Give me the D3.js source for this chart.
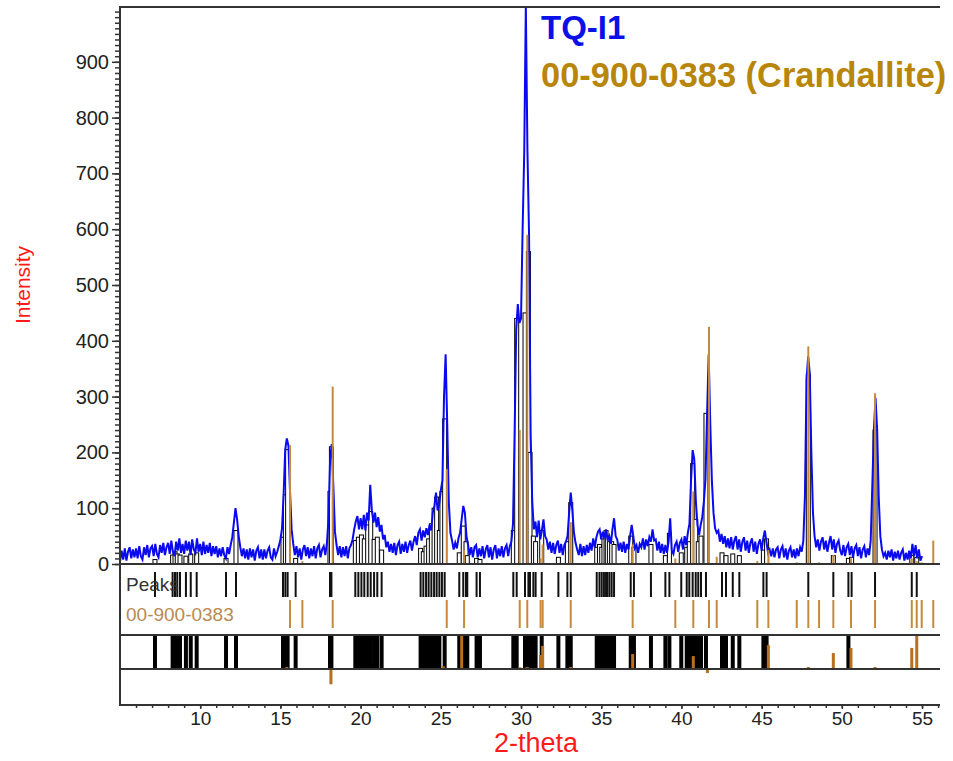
<!DOCTYPE html>
<html>
<head>
<meta charset="utf-8">
<script src="https://cdn.jsdelivr.net/npm/d3@7"></script>
<style>
  body { margin: 0; background: #fff; }
  svg { display: block; }
</style>
</head>
<body>
<svg id="chart" width="953" height="761"></svg>
<script>
// Measured scan TQ-I1: counts every 0.1 deg 2-theta, 5.0 .. 55.0
const scanStart = 5.0;
const scanStep = 0.1;
const intensity = [
  4, 24, 8, 28, 6, 22, 30, 10, 26, 12,          // 5
  28, 10, 32, 14, 8, 30, 16, 34, 12, 28,        // 6
  32, 14, 36, 18, 12, 34, 20, 38, 16, 30,       // 7
  38, 18, 42, 22, 14, 40, 24, 46, 20, 36,       // 8
  18, 42, 24, 40, 16, 44, 26, 20, 46, 22,       // 9
  36, 16, 40, 18, 34, 20, 38, 14, 32, 18,       // 10
  32, 12, 28, 14, 30, 16, 10, 30, 18, 34,       // 11
  48, 74, 100, 80, 50, 30, 14, 28, 10, 26,      // 12
  8, 28, 12, 26, 6, 24, 30, 10, 26, 8,          // 13
  26, 10, 24, 30, 12, 8, 28, 14, 22, 32,        // 14
  44, 64, 125, 205, 225, 212, 130, 62, 36, 16,  // 15
  32, 12, 28, 8, 26, 34, 14, 30, 10, 28,        // 16
  14, 32, 10, 28, 34, 12, 26, 32, 16, 38,       // 17
  82, 190, 215, 140, 58, 34, 16, 32, 12, 30,    // 18
  14, 32, 10, 28, 34, 44, 62, 76, 86, 62,       // 19
  82, 62, 88, 60, 92, 78, 142, 96, 74, 92,      // 20
  66, 84, 58, 70, 44, 52, 30, 40, 22, 36,       // 21
  20, 38, 16, 34, 40, 18, 36, 22, 40, 20,       // 22
  34, 42, 24, 40, 50, 34, 56, 62, 42, 60,       // 23
  48, 64, 52, 70, 60, 92, 104, 128, 96, 108,    // 24
  132, 150, 300, 376, 250, 110, 56, 42, 26, 38, // 25
  28, 46, 56, 80, 104, 92, 50, 34, 16, 30,      // 26
  12, 30, 34, 12, 28, 14, 32, 10, 26, 34,       // 27
  12, 30, 8, 26, 34, 10, 28, 14, 32, 12,        // 28
  28, 34, 14, 32, 40, 72, 232, 420, 466, 432,   // 29
  440, 600, 736, 1000, 742, 592, 232, 112, 62, 76, // 30
  48, 78, 44, 60, 80, 50, 44, 26, 40, 20,       // 31
  38, 18, 34, 42, 20, 36, 16, 34, 40, 50,       // 32
  92, 128, 96, 56, 38, 26, 16, 36, 14, 32,      // 33
  16, 34, 20, 38, 24, 46, 30, 48, 58, 62,       // 34
  44, 58, 46, 62, 42, 50, 36, 62, 82, 50,       // 35
  44, 24, 38, 22, 40, 20, 36, 26, 50, 70,       // 36
  50, 28, 34, 20, 36, 30, 46, 26, 44, 32,       // 37
  48, 40, 62, 42, 44, 24, 40, 20, 36, 18,       // 38
  34, 20, 40, 82, 24, 18, 34, 40, 22, 38,       // 39
  44, 26, 50, 34, 56, 72, 150, 204, 188, 112,   // 40
  70, 52, 70, 84, 112, 152, 270, 376, 250, 148, // 41
  92, 64, 56, 60, 40, 54, 36, 50, 30, 46,       // 42
  28, 48, 26, 42, 50, 26, 44, 22, 40, 48,       // 43
  24, 42, 20, 38, 46, 22, 40, 18, 36, 44,       // 44
  24, 46, 60, 40, 20, 26, 14, 28, 12, 26,       // 45
  30, 10, 26, 32, 12, 28, 8, 24, 30, 12,        // 46
  26, 10, 28, 14, 30, 22, 42, 122, 330, 372,    // 47
  342, 200, 92, 50, 30, 44, 24, 40, 48, 26,     // 48
  42, 22, 38, 50, 26, 44, 20, 36, 42, 24,       // 49
  16, 34, 14, 30, 36, 16, 32, 12, 28, 34,       // 50
  14, 30, 10, 26, 32, 12, 28, 16, 42, 140,      // 51
  240, 298, 242, 120, 50, 26, 14, 20, 8, 24,    // 52
  12, 26, 6, 22, 10, 24, 8, 20, 26, 6,          // 53
  20, 8, 24, 10, 36, 14, 34, 10, 26, 6,         // 54
  14                                            // 55
];

// Peak list of the scan (position, height)
const peakPos = [
  7.18, 8.28, 8.43, 8.57, 8.74, 9.11, 9.41, 9.78, 11.61, 12.23,
  15.16, 15.31, 15.45, 15.95, 18.09, 18.18,
  19.67, 19.86, 20.05, 20.23, 20.44, 20.63, 20.84, 21.04, 21.31,
  23.74, 23.91, 24.08, 24.24, 24.41, 24.58, 24.74, 24.91, 25.07, 25.24,
  26.15, 26.40, 26.57, 26.65, 27.23, 27.44,
  29.52, 29.73, 30.25, 30.46, 30.56, 30.77, 30.91, 31.29,
  32.33, 32.89, 33.10,
  34.72, 34.89, 35.03, 35.17, 35.30, 35.38, 35.51, 35.65, 35.80,
  36.84, 37.04, 38.10, 39.00, 39.25,
  39.99, 40.33, 40.49, 40.70, 40.89, 41.05, 41.22, 41.53,
  42.53, 42.78, 43.20, 43.61, 45.11, 45.31,
  47.91, 49.47, 50.41, 50.61, 52.07, 54.36, 54.67
];
const peakHeight = [
  8, 16, 22, 18, 16, 14, 18, 20, 10, 60,
  48, 124, 205, 10, 130, 210,
  42, 48, 52, 45, 70, 94, 44, 48, 25,
  28, 22, 32, 45, 72, 100, 120, 60, 130, 260,
  20, 68, 40, 15, 10, 8,
  60, 440, 450, 560, 200, 50, 40, 60,
  12, 40, 110,
  30, 35, 30, 45, 60, 50, 40, 40, 35,
  50, 30, 35, 15, 55,
  20, 30, 40, 180, 80, 40, 50, 270,
  20, 15, 18, 15, 25, 45,
  340, 15, 10, 12, 240, 15, 12
];

// Reference card 00-900-0383 (Crandallite): line positions and heights
const refPos = [
  15.60, 16.37, 18.26, 25.37, 26.45, 29.92, 30.39, 31.22, 31.35, 33.10,
  36.96, 39.62, 40.74, 41.72, 42.20, 44.73, 45.42, 47.19, 47.91, 48.58,
  49.47, 50.57, 52.07, 54.36, 54.67, 54.98, 55.70
];
const refHeight = [
  213, 5, 318, 170, 25, 240, 590, 10, 35, 75,
  35, 10, 130, 425, 13, 5, 25, 3, 390, 3,
  16, 10, 306, 10, 5, 3, 42
];

// Match strip: peak lines and reference residual bars
const matchLinePos = [
  7.18, 8.28, 8.43, 8.57, 8.74, 9.11, 9.41, 9.78, 11.61, 12.23,
  15.16, 15.31, 15.45, 15.95, 18.09, 18.18,
  19.67, 19.86, 20.05, 20.23, 20.44, 20.63, 20.84, 21.04, 21.31,
  23.74, 23.91, 24.08, 24.24, 24.41, 24.58, 24.74, 24.91, 25.24,
  26.15, 26.40, 26.57, 26.65, 27.23, 27.44,
  29.52, 29.73, 30.25, 30.46, 30.56, 30.77, 30.91, 31.29,
  32.33, 32.89, 33.10,
  34.72, 34.89, 35.03, 35.17, 35.30, 35.38, 35.51, 35.65, 35.80,
  36.84, 37.04, 38.10, 39.00, 39.25,
  39.99, 40.33, 40.49, 40.70, 40.89, 41.05, 41.22, 41.53,
  42.53, 42.78, 43.20, 43.61, 45.11, 45.31, 50.41
];
const matchResPos = [
  15.40, 18.15, 25.15, 26.30, 29.92, 30.30, 30.40, 31.22, 31.35, 33.10,
  36.96, 40.74, 41.62, 45.42, 47.91, 49.47, 50.57, 52.07, 54.36, 54.67
];
const matchResValue = [
  6, -45, 8, 100, 5, 4, 5, 41, 68, 6,
  44, 38, -12, 70, 6, 47, 62, 6, 62, 100
];

const yTickValues = [0, 100, 200, 300, 400, 500, 600, 700, 800, 900];
const xTickValues = [10, 15, 20, 25, 30, 35, 40, 45, 50, 55];
const seriesNames = ["TQ-I1", "00-900-0383 (Crandallite)"];
const rowLabels = ["Peaks", "00-900-0383"];
const axisTitles = { x: "2-theta", y: "Intensity" };

// ---- layout ----
const L = 120, R = 940;
const plotTop = 7, plotBottom = 564;
const peakRow = [572, 597];
const refRow = [600, 628];
const matchTop = 635, matchBottom = 669;
const axisY = 705;

const COL = {
  scan: "#0a0af0",
  ref: "#c58a3e",
  refText: "#b8860b",
  refLabel: "#b88a52",
  axis: "#333",
  text: "#222",
  title: "#ff1a1a"
};
const FONT = "'Liberation Sans', Arial, Helvetica, sans-serif";

const svg = d3.select("#chart");
const x = d3.scaleLinear().domain([5, 56.12]).range([L, R]);
const y = d3.scaleLinear().domain([0, 1000]).range([plotBottom, 6]);
const r = d3.scaleLinear().domain([0, 100]).range([matchBottom, matchTop]);

svg.append("defs").append("clipPath").attr("id", "plotClip")
  .append("rect").attr("x", L).attr("y", plotTop).attr("width", R - L).attr("height", plotBottom - plotTop);

// ---- peak list bars inside the plot ----
const peaks = peakPos.map((p, i) => ({ p, h: peakHeight[i] }));
svg.append("g").selectAll("rect").data(peaks).join("rect")
  .attr("x", d => x(d.p) - 2)
  .attr("width", 4)
  .attr("y", d => y(d.h))
  .attr("height", d => y(0) - y(d.h))
  .attr("fill", "#fff")
  .attr("stroke", "#000")
  .attr("stroke-width", 1);

// ---- measured pattern ----
const scan = intensity.map((v, i) => [scanStart + i * scanStep, v]);
svg.append("path")
  .datum(scan)
  .attr("clip-path", "url(#plotClip)")
  .attr("fill", "none")
  .attr("stroke", COL.scan)
  .attr("stroke-width", 2)
  .attr("stroke-linejoin", "miter")
  .attr("d", d3.line().x(d => x(d[0])).y(d => y(d[1])));

// ---- reference sticks inside the plot ----
const refs = refPos.map((p, i) => ({ p, h: refHeight[i] }));
svg.append("g").selectAll("line").data(refs).join("line")
  .attr("x1", d => x(d.p)).attr("x2", d => x(d.p))
  .attr("y1", y(0)).attr("y2", d => y(d.h))
  .attr("stroke", COL.ref)
  .attr("stroke-width", 2);

// ---- peaks row ----
svg.append("g").selectAll("line").data(peakPos).join("line")
  .attr("x1", d => x(d)).attr("x2", d => x(d))
  .attr("y1", peakRow[0]).attr("y2", peakRow[1])
  .attr("stroke", "#111")
  .attr("stroke-width", 2);

// ---- reference row ----
svg.append("g").selectAll("line").data(refPos).join("line")
  .attr("x1", d => x(d)).attr("x2", d => x(d))
  .attr("y1", refRow[0]).attr("y2", refRow[1])
  .attr("stroke", COL.ref)
  .attr("stroke-width", 2);

// ---- match strip ----
svg.append("g").selectAll("line").data(matchLinePos).join("line")
  .attr("x1", d => x(d)).attr("x2", d => x(d))
  .attr("y1", matchTop).attr("y2", matchBottom)
  .attr("stroke", "#000")
  .attr("stroke-width", 4);

const res = matchResPos.map((p, i) => ({ p, v: matchResValue[i] }));
svg.append("g").selectAll("rect").data(res).join("rect")
  .attr("x", d => x(d.p) - 1.5)
  .attr("width", 3)
  .attr("y", d => Math.min(r(d.v), r(0)))
  .attr("height", d => Math.abs(r(d.v) - r(0)))
  .attr("fill", "#b8701e");

// ---- frame lines ----
const frame = svg.append("g").attr("stroke", COL.axis).attr("stroke-width", 2).attr("fill", "none");
frame.append("line").attr("x1", L).attr("x2", R).attr("y1", plotTop).attr("y2", plotTop);
[plotBottom, matchTop, matchBottom].forEach(yy =>
  frame.append("line").attr("x1", L).attr("x2", R).attr("y1", yy).attr("y2", yy));

// ---- y axis ----
const yMinor = d3.range(0, 1000, 10);
const yAxisMinor = svg.append("g").attr("transform", `translate(${L},0)`)
  .call(d3.axisLeft(y).tickValues(yMinor).tickSize(5).tickFormat(""));
const yAxis = svg.append("g").attr("transform", `translate(${L},0)`)
  .call(d3.axisLeft(y).tickValues(yTickValues).tickSize(8).tickPadding(3));
[yAxisMinor, yAxis].forEach(g => {
  g.select(".domain").remove();
  g.selectAll(".tick line").attr("stroke", COL.axis).attr("stroke-width", 1.5);
});
yAxis.selectAll(".tick text")
  .attr("font-family", FONT).attr("font-size", 20).attr("fill", COL.text);
svg.append("line").attr("x1", L).attr("x2", L).attr("y1", plotTop - 1).attr("y2", axisY + 1)
  .attr("stroke", COL.axis).attr("stroke-width", 2);

// ---- x axis ----
const xMinor = d3.range(6, 57, 1);
const xAxisMinor = svg.append("g").attr("transform", `translate(0,${axisY})`)
  .call(d3.axisBottom(x).tickValues(xMinor).tickSize(3).tickFormat(""));
const xAxis = svg.append("g").attr("transform", `translate(0,${axisY})`)
  .call(d3.axisBottom(x).tickValues(xTickValues).tickSize(4).tickPadding(3));
[xAxisMinor, xAxis].forEach(g => {
  g.select(".domain").remove();
  g.selectAll(".tick line").attr("stroke", COL.axis).attr("stroke-width", 1.5);
});
xAxis.selectAll(".tick text")
  .attr("font-family", FONT).attr("font-size", 19).attr("fill", COL.text);
svg.append("line").attr("x1", L).attr("x2", R).attr("y1", axisY).attr("y2", axisY)
  .attr("stroke", COL.axis).attr("stroke-width", 2);

// ---- axis titles ----
svg.append("text")
  .attr("x", 536).attr("y", 752)
  .attr("text-anchor", "middle")
  .attr("font-family", FONT).attr("font-size", 27)
  .attr("fill", COL.title)
  .text(axisTitles.x);
svg.append("text")
  .attr("transform", "translate(30,285) rotate(-90)")
  .attr("text-anchor", "middle")
  .attr("font-family", FONT).attr("font-size", 21)
  .attr("fill", COL.title)
  .text(axisTitles.y);

// ---- row labels ----
svg.append("text").attr("x", 126).attr("y", 591)
  .attr("font-family", FONT).attr("font-size", 19).attr("fill", "#333")
  .text(rowLabels[0]);
svg.append("text").attr("x", 126).attr("y", 621)
  .attr("font-family", FONT).attr("font-size", 19).attr("fill", COL.refLabel)
  .text(rowLabels[1]);

// ---- legend ----
svg.append("text").attr("x", 541).attr("y", 39)
  .attr("font-family", FONT).attr("font-size", 33).attr("font-weight", "bold")
  .attr("fill", "#0a10e8")
  .text(seriesNames[0]);
svg.append("text").attr("x", 541).attr("y", 87)
  .attr("font-family", FONT).attr("font-size", 34.4).attr("font-weight", "bold")
  .attr("fill", COL.refText)
  .text(seriesNames[1]);
</script>
</body>
</html>
